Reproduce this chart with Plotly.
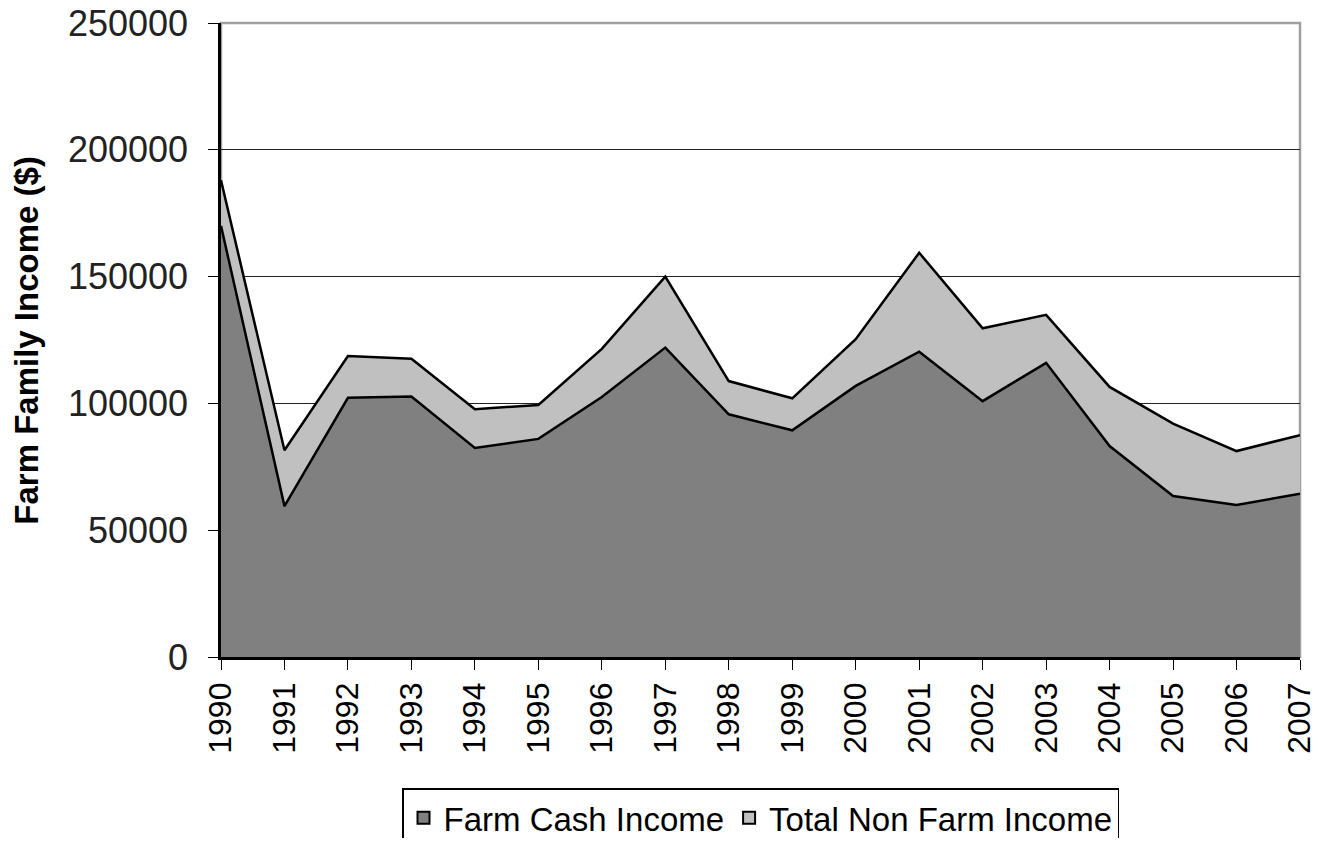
import plotly.graph_objects as go

# Farm family income, 1990-2007
years = list(range(1990, 2008))
farm_cash = [170000, 59500, 102200, 102700, 82400, 86000, 102500, 122000, 95700,
             89400, 106900, 120400, 100900, 116000, 83200, 63500, 59900, 64400]
non_farm = [18000, 22000, 16500, 14900, 15300, 13400, 19000, 28000, 13100,
            12600, 18400, 39000, 28700, 18900, 23300, 28500, 21300, 23100]
names = ["Farm Cash Income", "Total Non Farm Income"]
fills = ["#808080", "#c0c0c0"]

fig = go.Figure()
for vals, name, col in zip([farm_cash, non_farm], names, fills):
    fig.add_trace(go.Scatter(x=years, y=vals, name=name, stackgroup="one",
                             mode="lines", line=dict(color="black", width=2.5),
                             fillcolor=col, showlegend=False))
    # square legend swatch
    fig.add_trace(go.Bar(x=[None], y=[None], name=name,
                         marker=dict(color=col, line=dict(color="black", width=2))))

# gray plot-area border (top and right sides show it)
fig.add_shape(type="rect", xref="paper", yref="paper", x0=0, y0=0, x1=1, y1=1,
              line=dict(color="#a0a0a0", width=2.5), layer="below")

# y title as annotation so it can sit further left
fig.add_annotation(text="<b>Farm Family Income ($)</b>", xref="paper", yref="paper",
                   x=-0.181, y=0.5, xanchor="center", yanchor="middle",
                   textangle=-90, showarrow=False, font=dict(size=33))

# page body has an 8px margin, so the figure is offset by 8px;
# keep it small enough that nothing gets clipped
fig.update_layout(
    width=1304, height=830,
    margin=dict(l=213, r=12, t=15, b=181, autoexpand=False),
    paper_bgcolor="white", plot_bgcolor="white",
    font=dict(family="Liberation Sans, Arial", size=32, color="black"),
    showlegend=True,
    legend=dict(orientation="h", x=0.5, xanchor="center", y=-0.207, yanchor="top",
                bordercolor="black", borderwidth=1.5, font=dict(size=33),
                itemwidth=30, traceorder="normal"),
)
fig.update_xaxes(range=[1990, 2007], tickvals=years, tickangle=-90,
                 showline=True, linecolor="black", linewidth=2.5,
                 ticks="outside", ticklen=10, tickcolor="black",
                 showgrid=False, zeroline=False, tickfont=dict(size=32),
                 ticklabeloverflow="allow", automargin=False)
fig.update_yaxes(range=[0, 250000], dtick=50000, tickformat="d",
                 showline=True, linecolor="black", linewidth=2.5,
                 ticks="outside", ticklen=10, tickcolor="black",
                 showgrid=True, gridcolor="#222", gridwidth=1.2,
                 zeroline=False, tickfont=dict(size=36, color="#222"),
                 ticklabelstandoff=13, ticklabeloverflow="allow",
                 automargin=False)

fig.write_html("out.html")
